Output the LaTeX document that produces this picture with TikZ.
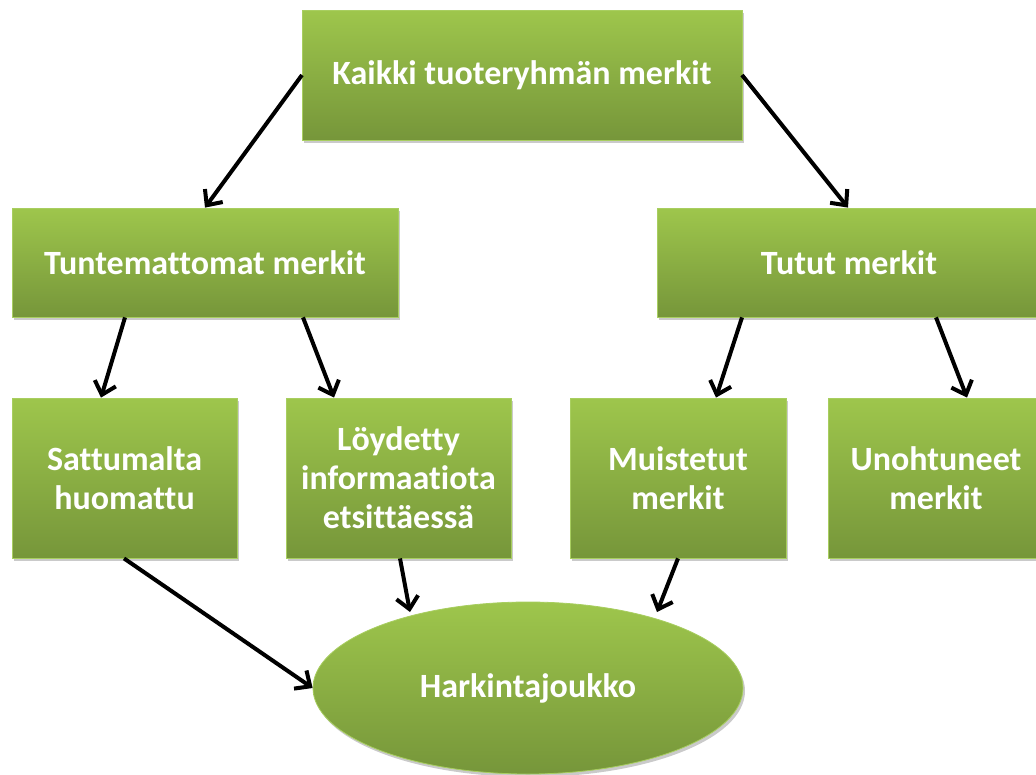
\documentclass[tikz,border=0pt]{standalone}
\usepackage{fontspec}
\setmainfont{Carlito}[Ligatures=NoCommon]
\usetikzlibrary{shapes.geometric,arrows.meta,shadows}
\definecolor{gtop}{RGB}{158,198,76}
\definecolor{gbot}{RGB}{118,150,58}
\definecolor{gedge}{RGB}{168,206,96}
\tikzset{
  box/.style={rectangle, draw=gedge, line width=0.8pt, top color=gtop, bottom color=gbot,
    text=white, font=\fontsize{34}{39}\selectfont\bfseries, align=center, inner sep=0pt,
    drop shadow={shadow xshift=2pt, shadow yshift=-3pt, opacity=0.35, fill=black!60}},
  conn/.style={line width=4pt, -{Straight Barb[length=12pt,width=22pt,line width=4pt]}, black}
}
\begin{document}
\begin{tikzpicture}[x=1pt,y=-1pt]
\useasboundingbox (0,0) rectangle (1036,774);
\node[box, minimum width=440pt, minimum height=130pt] (top) at (522,75) {Kaikki tuoteryhmän merkit};
\node[box, minimum width=386pt, minimum height=109pt] (tun) at (205,262.5) {Tuntemattomat merkit};
\node[box, minimum width=384pt, minimum height=109pt] (tut) at (849,262.5) {Tutut merkit};
\node[box, minimum width=225pt, minimum height=160pt] (sat) at (124.5,478) {Sattumalta\\huomattu};
\node[box, minimum width=225pt, minimum height=160pt] (loy) at (398.5,478) {Löydetty\\informaatiota\\etsittäessä};
\node[box, minimum width=216pt, minimum height=160pt] (mui) at (678,478) {Muistetut\\merkit};
\node[box, minimum width=216pt, minimum height=160pt] (uno) at (936,478) {Unohtuneet\\merkit};
\node[box, ellipse, minimum width=430pt, minimum height=172pt] (har) at (528,688) {Harkintajoukko};
\coordinate (a1) at (302,75);
\coordinate (a2) at (742,75);
\draw[conn] (a1) -- (tun.north -| 205,0);
\draw[conn] (a2) -- (tut.north -| 848,0);
\draw[conn] (tun.south -| 125,0) -- (sat.north -| 101,0);
\draw[conn] (tun.south -| 303,0) -- (loy.north -| 334,0);
\draw[conn] (tut.south -| 742,0) -- (mui.north -| 716,0);
\draw[conn] (tut.south -| 936,0) -- (uno.north -| 967,0);
\draw[conn] (sat.south -| 124,0) -- (har.west);
\draw[conn] (loy.south -| 400,0) -- (410,612);
\draw[conn] (mui.south -| 678,0) -- (657,612);
\end{tikzpicture}
\end{document}
